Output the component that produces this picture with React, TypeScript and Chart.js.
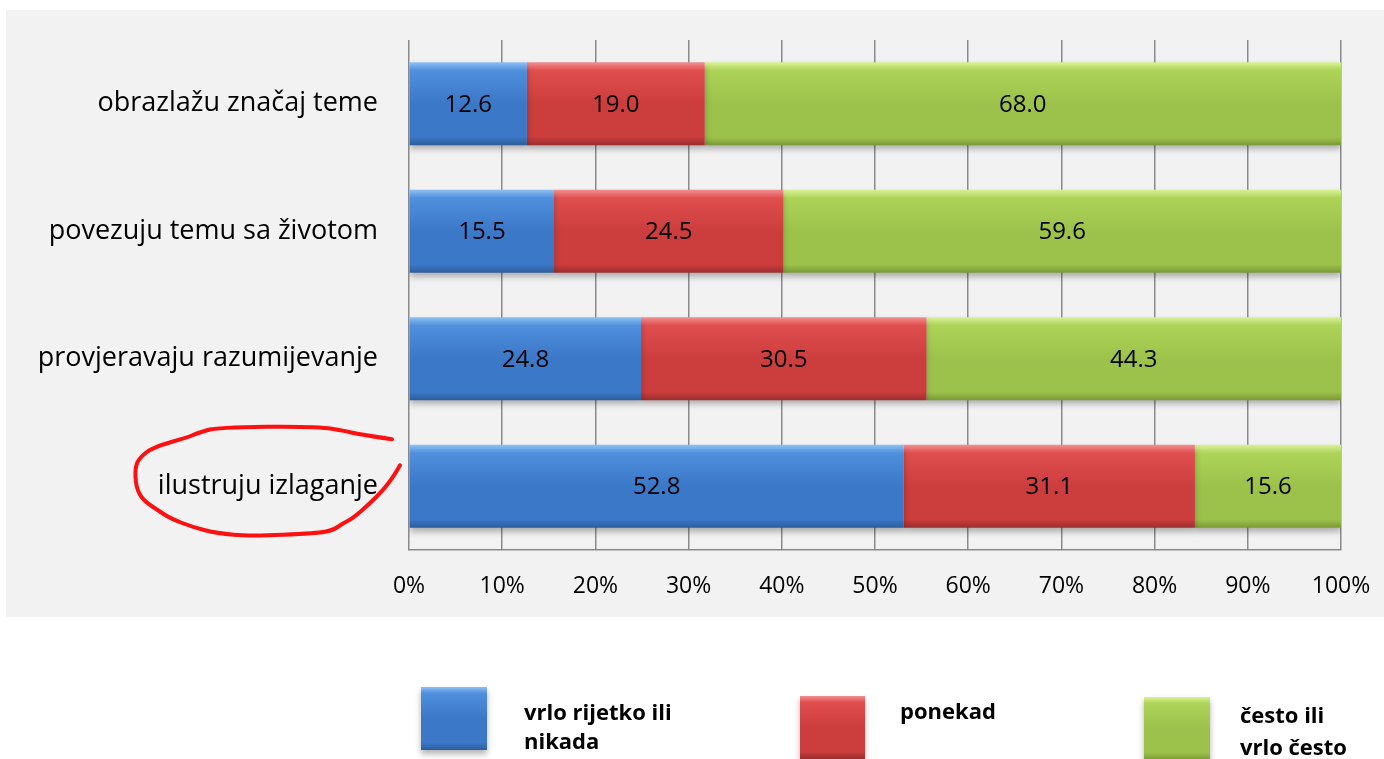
import React, { useEffect, useRef } from "react";
import { Chart, registerables } from "chart.js";

Chart.register(...registerables);

const categories: string[] = [
  "obrazlažu značaj teme",
  "povezuju temu sa životom",
  "provjeravaju razumijevanje",
  "ilustruju izlaganje",
];
const seriesNames: string[] = ["vrlo rijetko ili\nnikada", "ponekad", "često ili\nvrlo često"];
const rarelyValues: number[] = [12.6, 15.5, 24.8, 52.8];
const sometimesValues: number[] = [19.0, 24.5, 30.5, 31.1];
const oftenValues: number[] = [68.0, 59.6, 44.3, 15.6];
const tickValues: number[] = [0, 10, 20, 30, 40, 50, 60, 70, 80, 90, 100];
const highlightedCategory = "ilustruju izlaganje";

const FONT = "'Open Sans', 'DejaVu Sans', sans-serif";

type Shade = { top: string; light: string; mid: string; bottom: string };
const shades: Shade[] = [
  { top: "#8dc0f5", light: "#4f8fdc", mid: "#3b78c8", bottom: "#2c5d9c" },
  { top: "#f29090", light: "#e04e4e", mid: "#cc3d3d", bottom: "#9b2e2e" },
  { top: "#d9f294", light: "#add358", mid: "#9dc24b", bottom: "#7a9a36" },
];

const allSeries = [rarelyValues, sometimesValues, oftenValues];
const totals = categories.map((_, i) => allSeries.reduce((s, arr) => s + arr[i], 0));

function makeGradient(ctx: CanvasRenderingContext2D, y0: number, y1: number, s: Shade) {
  const g = ctx.createLinearGradient(0, y0, 0, y1);
  g.addColorStop(0, s.top);
  g.addColorStop(0.1, s.light);
  g.addColorStop(0.5, s.mid);
  g.addColorStop(0.9, s.mid);
  g.addColorStop(1, s.bottom);
  return g;
}

const panelPlugin = {
  id: "panel",
  beforeDraw(chart: any) {
    const ctx = chart.ctx;
    ctx.save();
    ctx.fillStyle = "#f2f2f2";
    ctx.fillRect(6, 10, 1378, 607);
    ctx.restore();
  },
};

const shadowPlugin = {
  id: "barShadow",
  beforeDatasetDraw(chart: any) {
    const ctx = chart.ctx;
    ctx.save();
    ctx.shadowColor = "rgba(0,0,0,0.28)";
    ctx.shadowBlur = 6;
    ctx.shadowOffsetY = 4;
  },
  afterDatasetDraw(chart: any) {
    chart.ctx.restore();
  },
};

const valueLabelPlugin = {
  id: "valueLabels",
  afterDatasetsDraw(chart: any) {
    const ctx = chart.ctx;
    ctx.save();
    ctx.font = `24px ${FONT}`;
    ctx.fillStyle = "#000";
    ctx.textAlign = "center";
    ctx.textBaseline = "middle";
    chart.data.datasets.forEach((ds: any, di: number) => {
      const meta = chart.getDatasetMeta(di);
      meta.data.forEach((el: any, i: number) => {
        const raw = allSeries[di][i];
        const cx = (el.x + el.base) / 2;
        ctx.fillText(raw.toFixed(1), cx, el.y + 1);
      });
    });
    ctx.restore();
  },
};

const ellipsePlugin = {
  id: "ellipse",
  afterDraw(chart: any) {
    const ys = chart.scales.y;
    const idx = categories.indexOf(highlightedCategory);
    if (idx < 0) return;
    const x0 = chart.chartArea.left;
    const yc = ys.getPixelForValue(idx);
    const pts: [number, number][] = [
      [-17, -47], [-56, -53], [-62, -55], [-92, -60], [-192, -59], [-212, -53],
      [-221, -49], [-256, -39], [-269, -29], [-274, -19], [-273, 1], [-266, 14],
      [-251, 24], [-239, 32], [-216, 41], [-192, 47], [-159, 50], [-92, 47],
      [-76, 44], [-66, 37], [-56, 32], [-39, 17], [-26, 4], [-16, -9], [-9, -21],
    ];
    const ctx = chart.ctx;
    ctx.save();
    ctx.strokeStyle = "#ff1010";
    ctx.lineWidth = 4;
    ctx.lineJoin = "round";
    ctx.lineCap = "round";
    ctx.beginPath();
    ctx.moveTo(x0 + pts[0][0], yc + pts[0][1]);
    for (let i = 1; i < pts.length - 1; i++) {
      const mx = (pts[i][0] + pts[i + 1][0]) / 2;
      const my = (pts[i][1] + pts[i + 1][1]) / 2;
      ctx.quadraticCurveTo(x0 + pts[i][0], yc + pts[i][1], x0 + mx, yc + my);
    }
    const last = pts[pts.length - 1];
    ctx.lineTo(x0 + last[0], yc + last[1]);
    ctx.stroke();
    ctx.restore();
  },
};

function legendBoxStyle(s: Shade, left: number, top: number, w: number, h: number): React.CSSProperties {
  return {
    position: "absolute",
    left,
    top,
    width: w,
    height: h,
    background: `linear-gradient(to bottom, ${s.top} 0%, ${s.light} 10%, ${s.mid} 50%, ${s.mid} 88%, ${s.bottom} 100%)`,
    boxShadow: "0 4px 6px rgba(0,0,0,0.3)",
  };
}

export default function App() {
  const canvasRef = useRef<HTMLCanvasElement | null>(null);

  useEffect(() => {
    const canvas = canvasRef.current;
    if (!canvas) return;
    const datasets = allSeries.map((arr, di) => ({
      label: seriesNames[di],
      data: arr.map((v, i) => (v / totals[i]) * 100),
      backgroundColor: (c: any) => {
        const chart = c.chart;
        const ys = chart.scales?.y;
        if (!ys || c.dataIndex == null || !chart.chartArea) return shades[di].mid;
        const yc = ys.getPixelForValue(c.dataIndex);
        const h = (ys.height / categories.length) * 0.65;
        return makeGradient(chart.ctx, yc - h / 2, yc + h / 2, shades[di]);
      },
      borderWidth: 0,
      barPercentage: 0.65,
      categoryPercentage: 1,
    }));

    const chart = new Chart(canvas, {
      type: "bar",
      data: { labels: categories, datasets },
      options: {
        indexAxis: "y",
        responsive: false,
        animation: false,
        layout: { padding: { left: 0, right: 43, top: 40, bottom: 0 } },
        plugins: { legend: { display: false }, tooltip: { enabled: false } },
        scales: {
          x: {
            stacked: true,
            min: 0,
            max: 100,
            afterBuildTicks: (scale: any) => {
              scale.ticks = tickValues.map((v) => ({ value: v }));
            },
            afterFit: (scale: any) => {
              scale.height = 209;
              scale.paddingLeft = 0;
              scale.paddingRight = 0;
            },
            grid: { color: "#8a8a8a", lineWidth: 1.5, drawTicks: false },
            border: { color: "#8a8a8a", width: 1.5 },
            ticks: {
              padding: 23,
              color: "#000",
              font: { family: FONT, size: 23 },
              callback: (v: any) => `${v}%`,
              maxRotation: 0,
              autoSkip: false,
            },
          },
          y: {
            stacked: true,
            afterFit: (scale: any) => {
              scale.width = 409;
              scale.paddingTop = 0;
              scale.paddingBottom = 0;
            },
            grid: { display: false, drawTicks: false },
            border: { display: false },
            ticks: {
              padding: 31,
              color: "#000",
              font: { family: FONT, size: 27 },
            },
          },
        },
      },
      plugins: [panelPlugin, shadowPlugin, valueLabelPlugin, ellipsePlugin],
    });
    return () => chart.destroy();
  }, []);

  const legendText: React.CSSProperties = {
    position: "absolute",
    fontFamily: FONT,
    fontWeight: 700,
    fontSize: 22,
    lineHeight: "30px",
    color: "#000",
    whiteSpace: "pre",
  };

  return (
    <div style={{ position: "fixed", left: 0, top: 0, width: 1384, height: 759, background: "#fff", overflow: "hidden" }}>
      <canvas ref={canvasRef} width={1384} height={759} style={{ position: "absolute", left: 0, top: 0 }} />
      <div style={legendBoxStyle(shades[0], 421, 687, 66, 63)} />
      <div style={{ ...legendText, left: 524, top: 697, lineHeight: "29px" }}>{seriesNames[0]}</div>
      <div style={legendBoxStyle(shades[1], 800, 696, 65, 63)} />
      <div style={{ ...legendText, left: 900, top: 695 }}>{seriesNames[1]}</div>
      <div style={legendBoxStyle(shades[2], 1144, 697, 66, 63)} />
      <div style={{ ...legendText, left: 1240, top: 698, lineHeight: "32px" }}>{seriesNames[2]}</div>
    </div>
  );
}
